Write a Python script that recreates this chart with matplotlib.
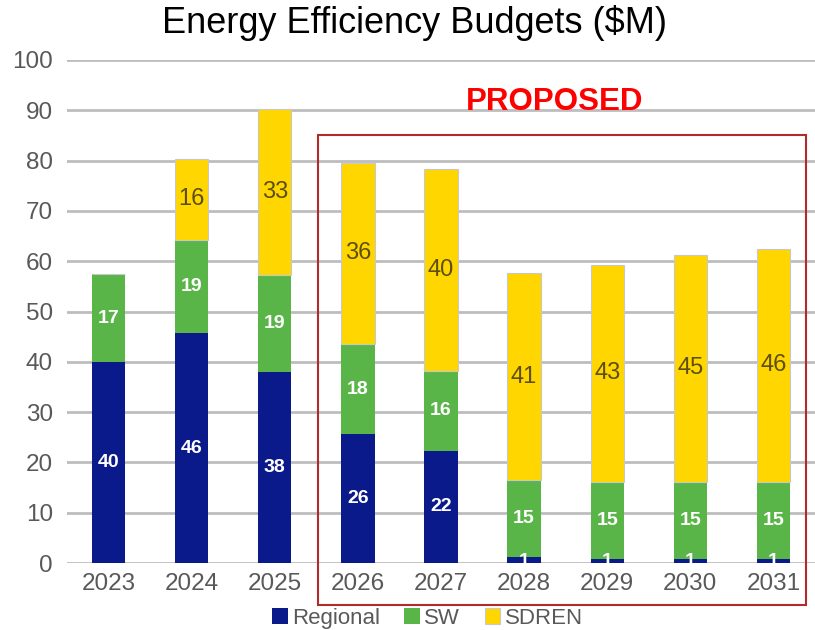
import numpy as np
import matplotlib
matplotlib.use('Agg')
import matplotlib.pyplot as plt
from matplotlib.patches import Rectangle

plt.rcParams['font.family'] = ['Liberation Sans', 'DejaVu Sans']

years = ['2023', '2024', '2025', '2026', '2027', '2028', '2029', '2030', '2031']
regional = [40.0, 45.7, 38.0, 25.6, 22.3, 1.1, 0.8, 0.8, 0.8]
sw = [17.4, 18.6, 19.3, 17.9, 15.9, 15.4, 15.4, 15.4, 15.4]
sdren = [0.0, 16.0, 33.0, 36.1, 40.1, 41.1, 43.1, 45.1, 46.2]

c_reg = '#0b1a8a'
c_sw = '#5ab548'
c_sd = '#ffd600'
grey = '#595959'

fig = plt.figure(figsize=(8.15, 6.3), dpi=100)
ax = fig.add_axes([0.0822, 0.1063, 0.9178, 0.7985])

x = np.arange(len(years))
reg = np.array(regional)
s = np.array(sw)
sd = np.array(sdren)
w = 0.4

b1 = ax.bar(x, reg, w, color=c_reg, label='Regional', zorder=3)
b2 = ax.bar(x, s, w, bottom=reg, color=c_sw, label='SW', zorder=3)
b3 = ax.bar(x, sd, w, bottom=reg + s, color=c_sd, label='SDREN', zorder=3,
            edgecolor='#c8c8c8', linewidth=0.8)

# segment labels
for i in range(len(years)):
    if reg[i] > 0:
        yy = reg[i] / 2 if reg[i] > 3 else 0.4
        ax.text(x[i], yy, '%d' % round(reg[i]), ha='center', va='center',
                color='white', fontsize=14, fontweight='bold', zorder=5)
    ax.text(x[i], reg[i] + s[i] / 2, '%d' % round(s[i]), ha='center', va='center',
            color='white', fontsize=14, fontweight='bold', zorder=5)
    if sd[i] > 0:
        ax.text(x[i], reg[i] + s[i] + sd[i] / 2, '%d' % round(sd[i]), ha='center',
                va='center', color='#5c4f10', fontsize=17, zorder=5)

ax.set_xlim(-0.5, 8.5)
ax.set_ylim(0, 100)
ax.set_yticks(range(0, 101, 10))
ax.set_xticks(x)
ax.set_xticklabels(years)
ax.tick_params(axis='both', length=0, labelsize=17.5, colors=grey)
ax.tick_params(axis='x', pad=7)
ax.tick_params(axis='y', pad=10)
ax.yaxis.grid(True, color='#bdbdbd', linewidth=2, zorder=0)
ax.set_axisbelow(True)
for sp in ax.spines.values():
    sp.set_visible(False)

# proposed box
rect = Rectangle((2.518, -8.35), 5.868, 93.45, fill=False, edgecolor='#b22a2a',
                 linewidth=1.5, clip_on=False, zorder=4)
ax.add_patch(rect)
ax.text(5.37, 91.6, 'PROPOSED', ha='center', va='center', color='#ff0000',
        fontsize=22.5, fontweight='bold')

fig.text(0.509, 0.963, 'Energy Efficiency Budgets ($M)', ha='center', va='center',
         fontsize=26, color='black')

leg = fig.legend(handles=[b1, b2, b3], loc='center', bbox_to_anchor=(0.5245, 0.019),
                 ncol=3, frameon=False, fontsize=16, handlelength=0.7,
                 handleheight=0.7, handletextpad=0.2, columnspacing=1.1)
for t in leg.get_texts():
    t.set_color(grey)

fig.savefig('out.png', dpi=100)
